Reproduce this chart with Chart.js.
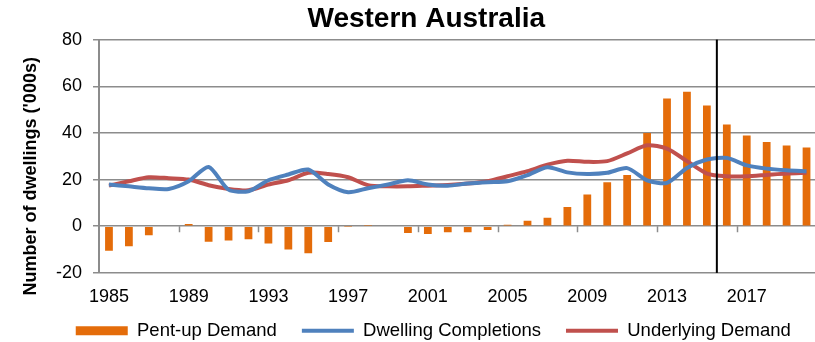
<!DOCTYPE html>
<html>
<head>
<meta charset="utf-8">
<title>Western Australia</title>
<script src="https://cdn.jsdelivr.net/npm/chart.js@4.4.1/dist/chart.umd.min.js"></script>
<style>
  html, body { margin: 0; padding: 0; background: #fff; overflow: hidden; }
  #wrap { width: 815px; height: 342px; overflow: hidden; position: relative; }
  #box { position: absolute; left: 0; top: 0; width: 826px; height: 342px; }
</style>
</head>
<body>
<div id="wrap"><div id="box"><canvas id="waChart"></canvas></div></div>
<script>
// years on the category axis
const years = ['1985', '1986', '1987', '1988', '1989', '1990', '1991', '1992', '1993', '1994', '1995', '1996',
               '1997', '1998', '1999', '2000', '2001', '2002', '2003', '2004', '2005', '2006', '2007', '2008',
               '2009', '2010', '2011', '2012', '2013', '2014', '2015', '2016', '2017', '2018', '2019', '2020'];

// only every fourth year gets a label
const xTickLabels = ['1985', '1989', '1993', '1997', '2001', '2005', '2009', '2013', '2017'];
const yTicks = [-20, 0, 20, 40, 60, 80];

// thousands of dwellings
const pentUpDemand = [-10.5, -8.6, -3.9, 0.3, 1.0, -6.7, -6.1, -5.6, -7.4, -10.0, -11.6, -6.8,
                      -0.1, 0.5, 0, -2.9, -3.3, -2.6, -2.6, -1.6, 0.6, 2.4, 3.6, 8.3,
                      13.6, 18.9, 22.0, 40.0, 54.7, 57.6, 51.7, 43.6, 38.9, 36.1, 34.6, 33.7];
const dwellingCompletions = [17.9, 17.1, 16.3, 16.0, 19.3, 25.4, 15.7, 15.0, 19.7, 22.2, 24.3, 17.9,
                             14.6, 16.3, 17.9, 19.7, 17.9, 17.4, 18.3, 18.9, 19.3, 21.9, 25.3, 23.1,
                             22.4, 22.9, 24.9, 19.7, 18.6, 25.0, 28.6, 29.3, 26.1, 24.7, 24.0, 23.6];
const underlyingDemand = [17.4, 19.3, 21.0, 20.6, 20.0, 17.6, 16.0, 15.4, 17.9, 19.7, 22.9, 22.4,
                          21.0, 17.6, 17.1, 17.1, 17.4, 17.7, 18.3, 19.3, 21.4, 23.6, 26.4, 28.1,
                          27.6, 27.9, 31.2, 34.7, 33.3, 27.9, 22.6, 21.4, 21.4, 22.0, 22.6, 22.9];

// projections start here
const forecastFrom = '2016';
const yAxisTitle = "Number of dwellings ('000s)";

const gridGrey = '#8c8c8c';
const font = 'Liberation Sans, Arial, sans-serif';

// small tick marks on the zero line + the black divider before the projections
const axisMarks = {
    id: 'axisMarks',
    afterDatasetsDraw(chart) {
        const {ctx, chartArea, scales: {x, y}} = chart;
        const y0 = y.getPixelForValue(0);
        ctx.save();
        ctx.strokeStyle = gridGrey;
        ctx.lineWidth = 1.5;
        for (let i = 4; i < years.length; i += 4) {
            const px = Math.round((x.getPixelForValue(i - 1) + x.getPixelForValue(i)) / 2) + 0.5;
            ctx.beginPath();
            ctx.moveTo(px, y0);
            ctx.lineTo(px, y0 + 6);
            ctx.stroke();
        }
        const f = years.indexOf(forecastFrom);
        const fx = (x.getPixelForValue(f - 1) + x.getPixelForValue(f)) / 2;
        ctx.strokeStyle = '#000';
        ctx.lineWidth = 2;
        ctx.beginPath();
        ctx.moveTo(fx, chartArea.top);
        ctx.lineTo(fx, chartArea.bottom);
        ctx.stroke();
        ctx.restore();
    }
};

// y axis title, sitting a bit below the middle of the plot
const yTitle = {
    id: 'yTitle',
    afterDraw(chart) {
        const {ctx, chartArea} = chart;
        ctx.save();
        ctx.translate(31, (chartArea.top + chartArea.bottom) / 2 + 20);
        ctx.rotate(-Math.PI / 2);
        ctx.font = 'bold 18px ' + font;
        ctx.fillStyle = '#000';
        ctx.textAlign = 'center';
        ctx.textBaseline = 'middle';
        ctx.fillText(yAxisTitle, 0, 0);
        ctx.restore();
    }
};

// title and legend are a little off the canvas centre
const boxNudge = {
    id: 'boxNudge',
    afterLayout(chart) {
        chart.legend.left += 25;
        chart.legend.right += 25;
        chart.legend.top -= 24;
        chart.legend.bottom -= 24;
        chart.titleBlock.left += 18;
        chart.titleBlock.right += 18;
    }
};

new Chart(document.getElementById('waChart'), {
    type: 'bar',
    data: {
        labels: years,
        datasets: [
            {
                label: 'Pent-up Demand',
                data: pentUpDemand,
                backgroundColor: '#e46c0a',
                categoryPercentage: 1,
                barPercentage: 0.39,
                order: 2
            },
            {
                type: 'line',
                label: 'Dwelling Completions',
                data: dwellingCompletions,
                borderColor: '#4f81bd',
                backgroundColor: '#4f81bd',
                borderWidth: 4,
                pointRadius: 0,
                tension: 0.25,
                order: 0
            },
            {
                type: 'line',
                label: 'Underlying Demand',
                data: underlyingDemand,
                borderColor: '#c0504d',
                backgroundColor: '#c0504d',
                borderWidth: 4,
                pointRadius: 0,
                tension: 0.25,
                order: 1
            }
        ]
    },
    options: {
        responsive: true,
        maintainAspectRatio: false,
        animation: false,
        layout: { padding: { right: 9.5, bottom: -32 } },
        plugins: {
            title: {
                display: true,
                text: 'Western Australia',
                color: '#000',
                font: { family: font, size: 28, weight: 'bold' },
                padding: { top: 2, bottom: 4 }
            },
            legend: {
                position: 'bottom',
                labels: {
                    sort: (a, b) => a.datasetIndex - b.datasetIndex,
                    usePointStyle: true,
                    pointStyleWidth: 52,
                    boxHeight: 9,
                    padding: 25,
                    color: '#000',
                    font: { family: font, size: 18.5 },
                    generateLabels(chart) {
                        const items = Chart.defaults.plugins.legend.labels.generateLabels(chart);
                        items.forEach(it => {
                            const ds = chart.data.datasets[it.datasetIndex];
                            if (ds.type === 'line') {
                                it.pointStyle = 'line';
                                it.strokeStyle = ds.borderColor;
                                it.lineWidth = 4;
                            } else {
                                it.pointStyle = 'rect';
                                it.fillStyle = ds.backgroundColor;
                                it.lineWidth = 0;
                            }
                        });
                        return items;
                    }
                }
            },
            tooltip: { enabled: false }
        },
        scales: {
            x: {
                grid: { display: false, drawTicks: false },
                border: { display: false },
                ticks: {
                    autoSkip: false,
                    maxRotation: 0,
                    padding: 13,
                    color: '#000',
                    font: { family: font, size: 18 },
                    callback: (val, i) => xTickLabels.includes(years[i]) ? years[i] : ''
                }
            },
            y: {
                min: yTicks[0],
                max: yTicks[yTicks.length - 1],
                afterBuildTicks: scale => { scale.ticks = yTicks.map(v => ({ value: v })); },
                afterFit: scale => { scale.width = 99; },
                grid: { color: gridGrey, lineWidth: 1.5, tickLength: 6 },
                border: { color: gridGrey, width: 2 },
                ticks: {
                    padding: 11,
                    color: '#000',
                    font: { family: font, size: 18 }
                }
            }
        }
    },
    plugins: [axisMarks, yTitle, boxNudge]
});
</script>
</body>
</html>
